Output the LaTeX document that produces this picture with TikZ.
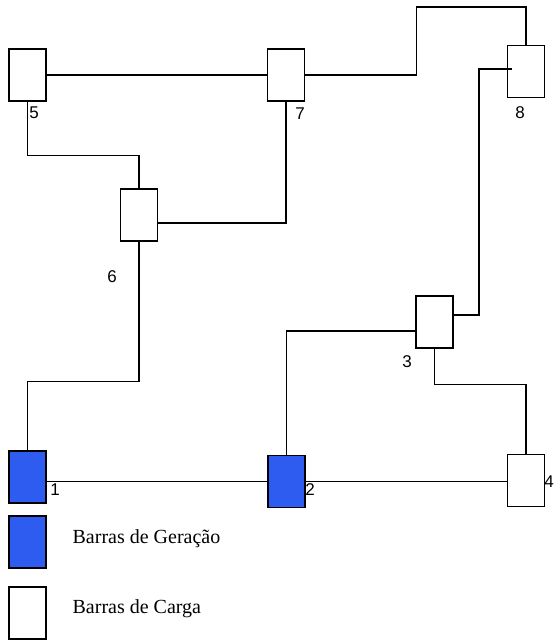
\documentclass[tikz,border=0pt]{standalone}
\usepackage{fontspec}
\setmainfont{Liberation Serif}
\newfontfamily\numfont{Liberation Sans}
\definecolor{genblue}{RGB}{46,92,240}

\begin{document}
\begin{tikzpicture}[x=1pt, y=-1pt, line width=1.3pt,
  bus/.style={draw, rectangle, minimum width=37pt, minimum height=52pt, inner sep=0pt},
  gen/.style={bus, fill=genblue},
  num/.style={font=\numfont\fontsize{17}{17}\selectfont, inner sep=0pt},
  legend/.style={anchor=base west, inner sep=0pt, font=\fontsize{20}{20}\selectfont}]
\useasboundingbox (0,0) rectangle (555,641);
% bars
\node (5)[bus] at (27.5,75) {};
\node (7)[bus] at (286,75) {};
\node (8)[bus] at (526,71.5) {};
\node (6)[bus] at (139,215) {};
\node (3)[bus] at (434.5,322) {};
\node (1)[gen] at (27.5,477) {};
\node (2)[gen] at (286.5,481.5) {};
\node (4)[bus] at (526,480.5) {};
% numbers
\node (n5)[num] at (34,113) {5};
\node (n7)[num] at (300,114) {7};
\node (n8)[num] at (520,113) {8};
\node (n6)[num] at (112,277) {6};
\node (n3)[num] at (407,362) {3};
\node (n1)[num] at (55,490) {1};
\node (n2)[num] at (310,490) {2};
\node (n4)[num, anchor=east] at (554.5,482) {4};
% lines
\draw (5.east) -- (7.west);
\draw (5.south) -- ++(0,54) -| (6.north);
\draw ([yshift=-8pt]6.east) -| (7.south);
\draw (6.south) -- ++(0,140) -| (1.north);
\draw (7.east) -- ++(111,0) -- ++(0,-68) -| (8.north);
\draw ([shift={(5pt,2.5pt)}]8.west) -- ++(-33,0) |- ([yshift=7pt]3.east);
\draw ([yshift=-9pt]3.west) -| (2.north);
\draw (3.south) -- ++(0,36) -| (4.north);
\draw (2.west -| 1.east) -- (2.west);
\draw (2.east) -- (2.east -| 4.west);
% legend
\node (g)[gen] at (27.5,542) {};
\node (c)[bus] at (27.5,613) {};
\node (tg)[legend] at (72,543) {Barras de Geração};
\node (tc)[legend] at (72,613) {Barras de Carga};
\end{tikzpicture}
\end{document}
